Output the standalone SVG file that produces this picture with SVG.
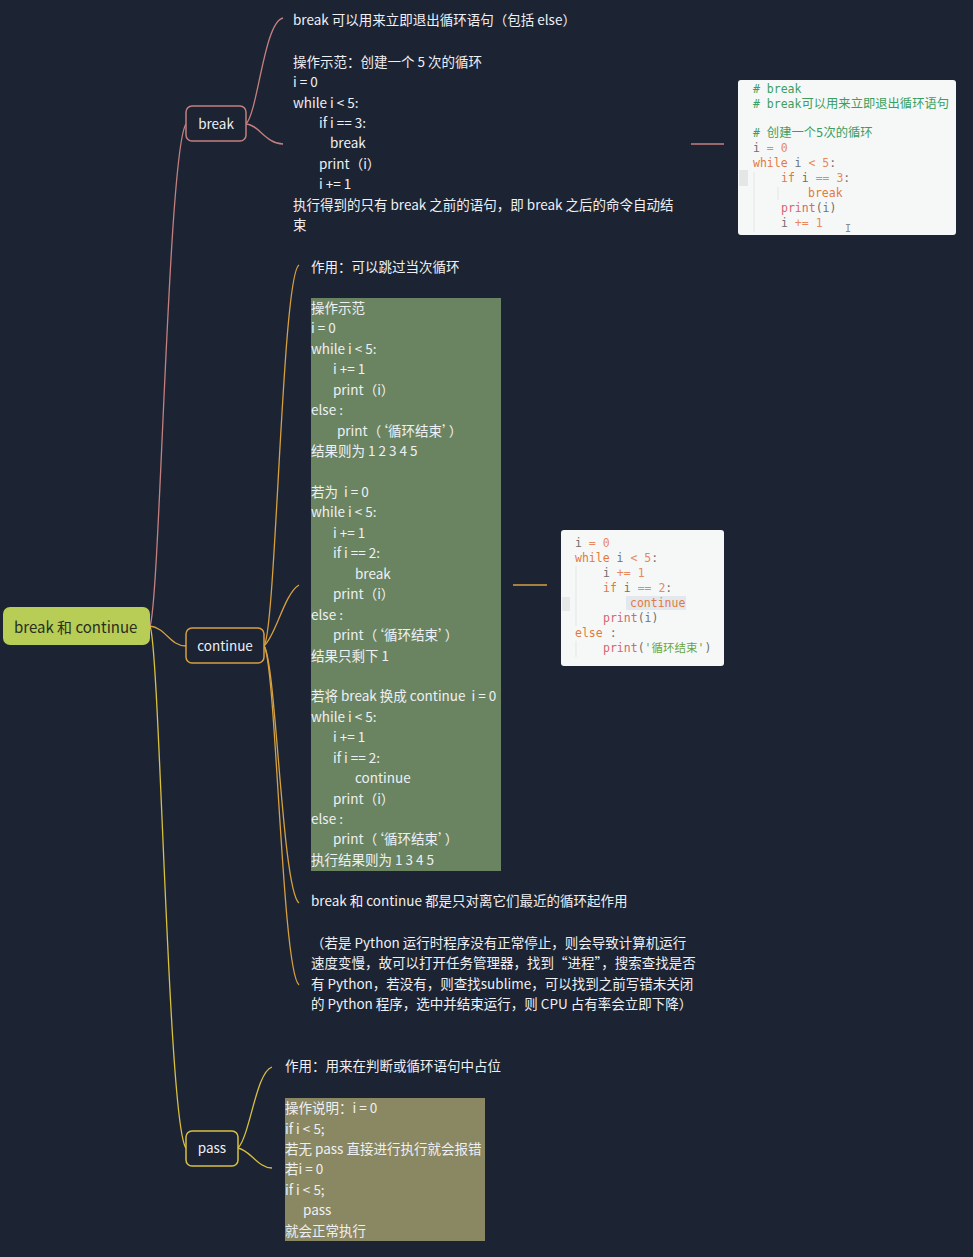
<svg xmlns="http://www.w3.org/2000/svg" width="973" height="1257" viewBox="0 0 973 1257">
<style>
.t{font-family:"Noto Sans CJK SC","Noto Sans",sans-serif;font-size:13.5px;fill:#eef0f4}
.n{font-family:"Noto Sans CJK SC","Noto Sans",sans-serif;font-size:13.5px;fill:#eef0f4;text-anchor:middle}
.c{font-family:"DejaVu Sans Mono","Liberation Mono","Noto Sans CJK SC",monospace;font-size:11.5px;fill:#707070}
.cm{fill:#3c9e5f}.kw{fill:#e2793f}.nu{fill:#e8885e}.pr{fill:#d8646c}.st{fill:#6aa53c}
.lb{fill:none;stroke:#c4807f;stroke-width:1.3}
.lc{fill:none;stroke:#d6a040;stroke-width:1.3}
.lp{fill:none;stroke:#d8c040;stroke-width:1.3}
</style>
<rect width="973" height="1257" fill="#1c2333"/>
<g id="connectors">
<path class="lb" d="M150 626 C160 600 168 150 186 124"/>
<path class="lc" d="M150 626 C166 628 170 646 186 646"/>
<path class="lp" d="M150 626 C160 650 168 1125 186 1148"/>
<path class="lb" d="M246 124 C258 112 264 22 283 18"/>
<path class="lb" d="M246 124 C258 124 266 144 283 144"/>
<path class="lb" d="M691 144 L724 144"/>
<path class="lc" d="M264 646 C276 630 282 275 299 265"/>
<path class="lc" d="M264 646 C276 636 284 594 299 585"/>
<path class="lc" d="M264 646 C276 660 282 890 299 903"/>
<path class="lc" d="M264 646 C276 662 282 972 299 985"/>
<path class="lc" d="M513 585 L547 585"/>
<path class="lp" d="M238 1148 C250 1136 256 1072 272 1067"/>
<path class="lp" d="M238 1148 C250 1150 258 1168 272 1168"/>
</g>
<g id="root">
<rect x="3" y="607" width="147" height="38" rx="7" fill="#b7cd55"/>
<text x="14" y="633" style="font-family:'Noto Sans CJK SC','Noto Sans',sans-serif;font-size:15px;fill:#2a2f1e">break 和 continue</text>
</g>
<g id="break">
<rect x="186" y="106" width="60" height="35" rx="6" fill="#1c2333" stroke="#c4807f" stroke-width="1.5"/>
<text class="n" x="216" y="128.5">break</text>
</g>
<g id="continue">
<rect x="186" y="628" width="78" height="35" rx="6" fill="#1c2333" stroke="#d6a040" stroke-width="1.5"/>
<text class="n" x="225" y="651">continue</text>
</g>
<g id="pass">
<rect x="186" y="1131" width="52" height="35" rx="6" fill="#1c2333" stroke="#d8c040" stroke-width="1.5"/>
<text class="n" x="212" y="1153">pass</text>
</g>
<g id="break-text">
<text class="t" x="293" y="25">break 可以用来立即退出循环语句（包括 else）</text>
<text class="t" x="293" y="67">操作示范：创建一个 5 次的循环</text>
<text class="t" x="293" y="87">i = 0</text>
<text class="t" x="293" y="108">while i &lt; 5:</text>
<text class="t" x="319" y="128">if i == 3:</text>
<text class="t" x="330" y="148">break</text>
<text class="t" x="319" y="169">print（i）</text>
<text class="t" x="319" y="189">i += 1</text>
<text class="t" x="293" y="210">执行得到的只有 break 之前的语句，即 break 之后的命令自动结</text>
<text class="t" x="293" y="230">束</text>
</g>
<g id="break-image">
<rect x="738" y="80" width="218" height="155" rx="3" fill="#f6f8f7"/>
<rect x="739" y="170" width="9" height="16" fill="#e4e6e8"/>
<line x1="754" y1="172" x2="754" y2="232" stroke="#e3e5e7" stroke-width="1"/>
<line x1="778" y1="187" x2="778" y2="200" stroke="#e3e5e7" stroke-width="1"/>
<text class="c" x="753" y="93"><tspan class="cm"># break</tspan></text>
<text class="c" x="753" y="108"><tspan class="cm"># break<tspan style="font-size:12.3px">可以用来立即退出循环语句</tspan></tspan></text>
<text class="c" x="753" y="137"><tspan class="cm"># <tspan style="font-size:12.3px">创建一个5次的循环</tspan></tspan></text>
<text class="c" x="753" y="152">i <tspan class="nu">= 0</tspan></text>
<text class="c" x="753" y="167"><tspan class="kw">while</tspan> i <tspan class="nu">&lt; 5</tspan>:</text>
<text class="c" x="781" y="182"><tspan class="kw">if</tspan> i <tspan class="nu">== 3</tspan>:</text>
<text class="c" x="808" y="197"><tspan class="kw">break</tspan></text>
<text class="c" x="781" y="212"><tspan class="pr">print</tspan>(i)</text>
<text class="c" x="781" y="227">i <tspan class="nu">+= 1</tspan></text>
<text class="c" x="845" y="232" style="fill:#8a8a8a;font-size:10px">I</text>
</g>
<g id="continue-text">
<text class="t" x="311" y="272">作用：可以跳过当次循环</text>
<text class="t" x="311" y="906">break 和 continue 都是只对离它们最近的循环起作用</text>
<text class="t" x="311" y="948">（若是 Python 运行时程序没有正常停止，则会导致计算机运行</text>
<text class="t" x="311" y="968">速度变慢，故可以打开任务管理器，找到“进程”，搜索查找是否</text>
<text class="t" x="311" y="989">有 Python，若没有，则查找sublime，可以找到之前写错未关闭</text>
<text class="t" x="311" y="1009">的 Python 程序，选中并结束运行，则 CPU 占有率会立即下降）</text>
</g>
<g id="continue-block">
<rect x="311" y="298" width="190" height="573" fill="#6a8462"/>
<text class="t" x="311" y="313">操作示范</text>
<text class="t" x="311" y="333.4">i = 0</text>
<text class="t" x="311" y="353.9">while i &lt; 5:</text>
<text class="t" x="333" y="374.3">i += 1</text>
<text class="t" x="333" y="394.8">print（i）</text>
<text class="t" x="311" y="415.2">else :</text>
<text class="t" x="337" y="435.6">print（‘循环结束’）</text>
<text class="t" x="311" y="456.1">结果则为 1 2 3 4 5</text>
<text class="t" x="311" y="497" xml:space="preserve">若为  i = 0</text>
<text class="t" x="311" y="517.4">while i &lt; 5:</text>
<text class="t" x="333" y="537.8">i += 1</text>
<text class="t" x="333" y="558.3">if i == 2:</text>
<text class="t" x="355" y="578.7">break</text>
<text class="t" x="333" y="599.2">print（i）</text>
<text class="t" x="311" y="619.6">else :</text>
<text class="t" x="333" y="640">print（‘循环结束’）</text>
<text class="t" x="311" y="660.5">结果只剩下 1</text>
<text class="t" x="311" y="701.4" xml:space="preserve">若将 break 换成 continue  i = 0</text>
<text class="t" x="311" y="721.8">while i &lt; 5:</text>
<text class="t" x="333" y="742.2">i += 1</text>
<text class="t" x="333" y="762.7">if i == 2:</text>
<text class="t" x="355" y="783.1">continue</text>
<text class="t" x="333" y="803.6">print（i）</text>
<text class="t" x="311" y="824">else :</text>
<text class="t" x="333" y="844.4">print（‘循环结束’）</text>
<text class="t" x="311" y="864.9">执行结果则为 1 3 4 5</text>
</g>
<g id="continue-image">
<rect x="561" y="530" width="163" height="136" rx="3" fill="#f6f8f7"/>
<rect x="562" y="597" width="8" height="14" fill="#e6e8ea"/>
<line x1="576" y1="566" x2="576" y2="626" stroke="#e3e5e7" stroke-width="1"/>
<line x1="576" y1="641" x2="576" y2="657" stroke="#e3e5e7" stroke-width="1"/>
<rect x="626" y="596" width="60" height="14" fill="#e3e8ee"/>
<text class="c" x="575" y="547">i <tspan class="nu">= 0</tspan></text>
<text class="c" x="575" y="562"><tspan class="kw">while</tspan> i <tspan class="nu">&lt; 5</tspan>:</text>
<text class="c" x="603" y="577">i <tspan class="nu">+= 1</tspan></text>
<text class="c" x="603" y="592"><tspan class="kw">if</tspan> i <tspan class="nu">== 2</tspan>:</text>
<text class="c" x="630" y="607"><tspan class="kw">continue</tspan></text>
<text class="c" x="603" y="622"><tspan class="pr">print</tspan>(i)</text>
<text class="c" x="575" y="637"><tspan class="kw">else</tspan> :</text>
<text class="c" x="603" y="652"><tspan class="pr">print</tspan>(<tspan class="st">'循环结束'</tspan>)</text>
</g>
<g id="pass-text">
<text class="t" x="285" y="1071">作用：用来在判断或循环语句中占位</text>
<rect x="285" y="1098" width="200" height="143" fill="#8a8763"/>
<text class="t" x="285" y="1113">操作说明：i = 0</text>
<text class="t" x="285" y="1134">if i &lt; 5;</text>
<text class="t" x="285" y="1154">若无 pass 直接进行执行就会报错</text>
<text class="t" x="285" y="1174">若i = 0</text>
<text class="t" x="285" y="1195">if i &lt; 5;</text>
<text class="t" x="303" y="1215">pass</text>
<text class="t" x="285" y="1236">就会正常执行</text>
</g>
</svg>
